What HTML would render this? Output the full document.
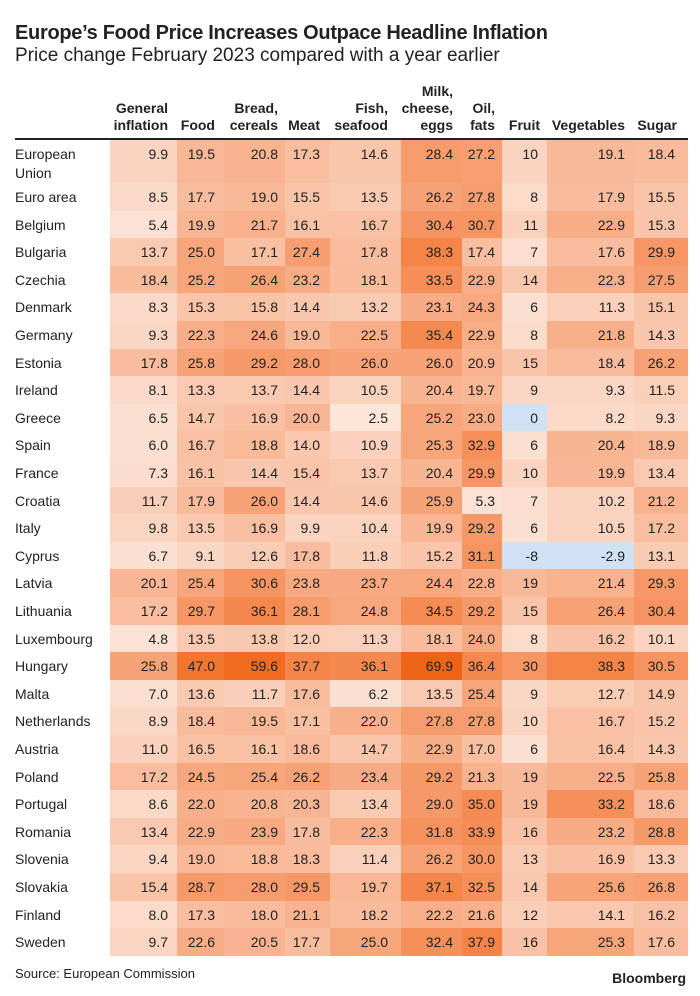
<!DOCTYPE html>
<html><head><meta charset="utf-8">
<style>
body{margin:0;background:#fff;font-family:"Liberation Sans",Arial,sans-serif;color:#222}
#root{position:relative;width:700px;height:996px;overflow:hidden}
.t{position:absolute;white-space:nowrap}
.cell{position:absolute}
.v{position:absolute;font-size:14px;text-align:right;white-space:nowrap}
.h{position:absolute;font-size:14px;font-weight:bold;text-align:right;line-height:17px}
</style></head><body>
<div id="root">
<div class="t" style="left:15px;top:22px;font-size:20px;font-weight:bold;letter-spacing:-0.3px">Europe’s Food Price Increases Outpace Headline Inflation</div>
<div class="t" style="left:15px;top:45px;font-size:19px">Price change February 2023 compared with a year earlier</div>
<div class="t" style="left:15px;top:966px;font-size:13px">Source: European Commission</div>
<div class="t" style="right:14px;top:970px;font-size:14px;font-weight:bold">Bloomberg</div>
<div class="cell" style="left:15px;top:138px;width:673px;height:2px;background:#222"></div>
</div>
<script>
const categories=["General inflation","Food","Bread, cereals","Meat","Fish, seafood","Milk, cheese, eggs","Oil, fats","Fruit","Vegetables","Sugar"];
const headerLines=[["General","inflation"],["Food"],["Bread,","cereals"],["Meat"],["Fish,","seafood"],["Milk,","cheese,","eggs"],["Oil,","fats"],["Fruit"],["Vegetables"],["Sugar"]];
const countries=["European Union","Euro area","Belgium","Bulgaria","Czechia","Denmark","Germany","Estonia","Ireland","Greece","Spain","France","Croatia","Italy","Cyprus","Latvia","Lithuania","Luxembourg","Hungary","Malta","Netherlands","Austria","Poland","Portugal","Romania","Slovenia","Slovakia","Finland","Sweden"];
const values=[
[9.9,19.5,20.8,17.3,14.6,28.4,27.2,10,19.1,18.4],
[8.5,17.7,19.0,15.5,13.5,26.2,27.8,8,17.9,15.5],
[5.4,19.9,21.7,16.1,16.7,30.4,30.7,11,22.9,15.3],
[13.7,25.0,17.1,27.4,17.8,38.3,17.4,7,17.6,29.9],
[18.4,25.2,26.4,23.2,18.1,33.5,22.9,14,22.3,27.5],
[8.3,15.3,15.8,14.4,13.2,23.1,24.3,6,11.3,15.1],
[9.3,22.3,24.6,19.0,22.5,35.4,22.9,8,21.8,14.3],
[17.8,25.8,29.2,28.0,26.0,26.0,20.9,15,18.4,26.2],
[8.1,13.3,13.7,14.4,10.5,20.4,19.7,9,9.3,11.5],
[6.5,14.7,16.9,20.0,2.5,25.2,23.0,0,8.2,9.3],
[6.0,16.7,18.8,14.0,10.9,25.3,32.9,6,20.4,18.9],
[7.3,16.1,14.4,15.4,13.7,20.4,29.9,10,19.9,13.4],
[11.7,17.9,26.0,14.4,14.6,25.9,5.3,7,10.2,21.2],
[9.8,13.5,16.9,9.9,10.4,19.9,29.2,6,10.5,17.2],
[6.7,9.1,12.6,17.8,11.8,15.2,31.1,-8,-2.9,13.1],
[20.1,25.4,30.6,23.8,23.7,24.4,22.8,19,21.4,29.3],
[17.2,29.7,36.1,28.1,24.8,34.5,29.2,15,26.4,30.4],
[4.8,13.5,13.8,12.0,11.3,18.1,24.0,8,16.2,10.1],
[25.8,47.0,59.6,37.7,36.1,69.9,36.4,30,38.3,30.5],
[7.0,13.6,11.7,17.6,6.2,13.5,25.4,9,12.7,14.9],
[8.9,18.4,19.5,17.1,22.0,27.8,27.8,10,16.7,15.2],
[11.0,16.5,16.1,18.6,14.7,22.9,17.0,6,16.4,14.3],
[17.2,24.5,25.4,26.2,23.4,29.2,21.3,19,22.5,25.8],
[8.6,22.0,20.8,20.3,13.4,29.0,35.0,19,33.2,18.6],
[13.4,22.9,23.9,17.8,22.3,31.8,33.9,16,23.2,28.8],
[9.4,19.0,18.8,18.3,11.4,26.2,30.0,13,16.9,13.3],
[15.4,28.7,28.0,29.5,19.7,37.1,32.5,14,25.6,26.8],
[8.0,17.3,18.0,21.1,18.2,22.2,21.6,12,14.1,16.2],
[9.7,22.6,20.5,17.7,25.0,32.4,37.9,16,25.3,17.6]];
const integerCols=[7];

const colL=[110,177,224,285,330,401,462,502,547,634];
const colR=[177,224,285,330,401,462,502,547,634,688];
const textR=[168,215,278,320,388,453,495,538,625,675];
const stops=[[0,[252,234,224]],[7,[251,222,207]],[10,[250,212,192]],[15,[249,197,170]],[20,[248,182,148]],[25,[247,166,124]],[30,[246,150,100]],[38,[245,132,72]],[47,[243,118,48]],[60,[241,108,32]],[70,[238,100,22]]];
function color(v){
  if(v<=0) return "rgb(207,225,242)";
  if(v>=70) return "rgb(238,100,22)";
  for(let i=1;i<stops.length;i++){
    if(v<=stops[i][0]){
      const a=stops[i-1],b=stops[i],t=(v-a[0])/(b[0]-a[0]);
      const c=a[1].map((x,k)=>Math.round(x+(b[1][k]-x)*t));
      return "rgb("+c.join(",")+")";
    }
  }
}
const root=document.getElementById("root");
function rowTop(i){return i===0?140:183+(i-1)*27.6;}
function rowH(i){return i===0?43:27.6;}
headerLines.forEach((lines,j)=>{
  const d=document.createElement("div");
  d.className="h";
  
  
  d.innerHTML=lines.join("<br>");
  const n=lines.length;
  d.style.top=(134-n*17)+"px";
  d.style.right=(700-textR[j])+"px";
  if(j===7||j===9){d.style.right=(700-textR[j]-2)+"px";}
  root.appendChild(d);
});
countries.forEach((c,i)=>{
  const top=rowTop(i),h=rowH(i);
  const lab=document.createElement("div");
  lab.className="t";
  
  
  lab.style.left="15px";lab.style.top=(top+5)+"px";lab.style.fontSize="14px";lab.style.lineHeight="19px";
  lab.innerHTML=i===0?"European<br>Union":c;
  root.appendChild(lab);
  values[i].forEach((v,j)=>{
    const cell=document.createElement("div");
    cell.className="cell";
    
    
    cell.style.left=colL[j]+"px";cell.style.width=(colR[j]-colL[j])+"px";
    cell.style.top=top+"px";cell.style.height=(h+0.6)+"px";
    cell.style.background=color(v);
    root.appendChild(cell);
    const t=document.createElement("div");
    t.className="v";
    
    
    t.textContent=integerCols.includes(j)?String(Math.round(v)):v.toFixed(1);
    t.style.right=(700-textR[j])+"px";
    t.style.top=(top+5)+"px";t.style.lineHeight="19px";
    root.appendChild(t);
  });
});
</script>
</body></html>
